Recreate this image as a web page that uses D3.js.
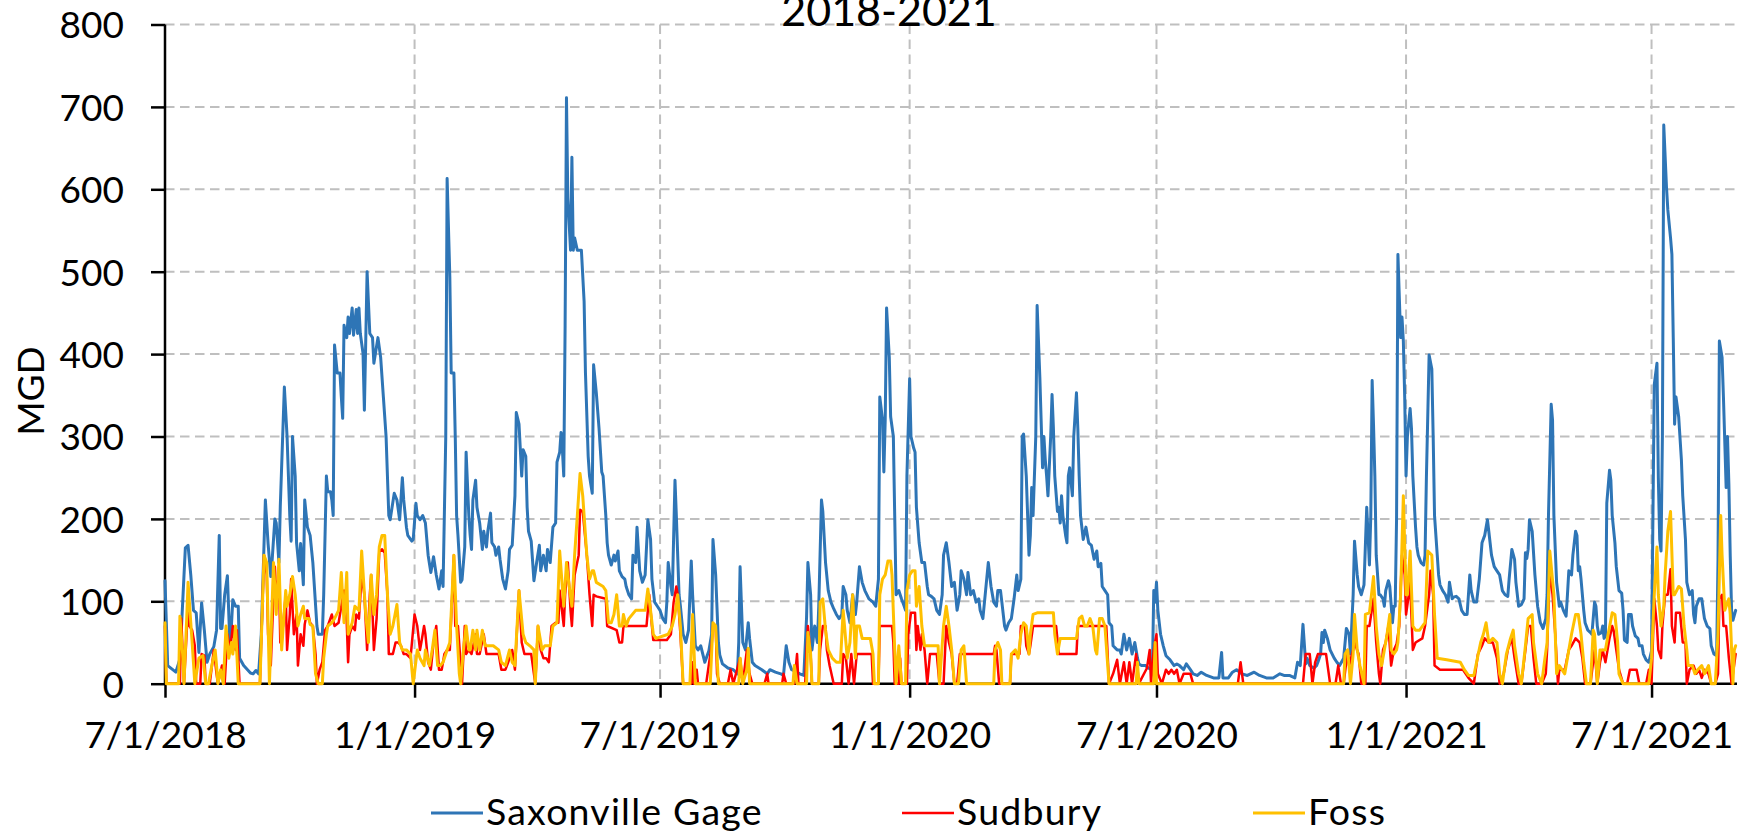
<!DOCTYPE html>
<html><head><meta charset="utf-8">
<script src="https://cdn.jsdelivr.net/npm/d3@7"></script>
<style>
html,body{margin:0;padding:0;background:#fff;}
svg{display:block;font-family:Lato,"Open Sans",sans-serif;}
</style>
</head><body>
<svg id="chart" width="1746" height="835"></svg>
<script>
// ---------- data ----------
const titleText = "2018-2021";
const yAxisTitle = "MGD";
const seriesNames = ["Saxonville Gage", "Sudbury", "Foss"];
const startDay = "2018-07-01";   // day 0 of the series below
const endDay = "2021-09-02";
const yTicks = [0, 100, 200, 300, 400, 500, 600, 700, 800];
const xTickDates = ["2018-07-01", "2019-01-01", "2019-07-01", "2020-01-01", "2020-07-01", "2021-01-01", "2021-07-01"];
const xTickLabels = ["7/1/2018", "1/1/2019", "7/1/2019", "1/1/2020", "7/1/2020", "1/1/2021", "7/1/2021"];

// [days since 7/1/2018, MGD]
const saxonville = [[0,125],[2,22],[5,18],[8,14],[11,30],[15,165],[17,168],[19,132],[21,89],[23,86],[25,38],[27,98],[29,65],[31,26],[33,36],[36,45],[38,65],[40,180],[41,67],[42,67],[44,108],[46,131],[48,41],[50,102],[52,94],[54,94],[55,31],[58,22],[63,13],[65,12],[67,16],[69,12],[71,60],[74,223],[76,170],[78,130],[79,150],[81,200],[82,195],[84,147],[85,215],[88,360],[90,300],[92,204],[93,173],[94,300],[96,252],[97,171],[99,137],[100,170],[102,120],[103,223],[105,190],[107,180],[109,147],[112,70],[113,60],[116,60],[117,108],[119,252],[120,233],[122,233],[123,223],[124,204],[125,411],[127,377],[129,377],[130,348],[131,322],[132,435],[134,420],[135,445],[136,425],[138,456],[139,423],[141,454],[142,425],[143,456],[144,425],[146,401],[147,332],[149,500],[151,425],[153,420],[154,389],[157,420],[159,396],[161,348],[163,300],[165,204],[166,199],[169,231],[171,223],[173,199],[175,250],[176,223],[178,190],[179,180],[182,173],[183,175],[185,219],[186,204],[188,199],[190,204],[192,195],[194,156],[196,135],[198,154],[200,132],[202,115],[204,137],[205,118],[207,300],[208,613],[210,493],[211,377],[213,377],[214,300],[215,204],[216,180],[218,123],[219,126],[221,166],[222,281],[224,204],[225,180],[226,163],[227,223],[229,247],[230,214],[232,195],[234,163],[235,185],[237,166],[238,185],[240,207],[241,171],[243,166],[244,156],[246,166],[247,151],[249,127],[251,115],[253,137],[254,163],[256,168],[258,228],[259,329],[261,315],[263,252],[264,284],[266,276],[267,214],[268,185],[270,173],[272,125],[274,147],[276,168],[277,137],[279,156],[281,137],[282,163],[284,147],[286,190],[288,195],[289,269],[291,281],[292,305],[293,284],[294,252],[295,435],[296,711],[297,589],[299,526],[300,639],[301,526],[302,541],[304,526],[307,526],[309,464],[310,377],[312,276],[313,252],[315,231],[316,387],[318,353],[320,310],[322,257],[323,252],[325,204],[326,171],[327,156],[329,144],[331,156],[332,149],[334,161],[335,137],[337,130],[339,127],[340,118],[342,108],[344,103],[345,156],[347,147],[348,190],[350,137],[352,123],[354,132],[356,199],[358,175],[359,127],[361,99],[363,94],[365,89],[367,79],[369,74],[370,99],[371,147],[373,118],[374,108],[376,247],[377,204],[379,108],[380,94],[382,60],[384,50],[386,65],[388,149],[389,108],[391,46],[393,41],[395,46],[398,26],[401,40],[403,60],[404,175],[406,132],[408,50],[409,35],[411,24],[415,19],[419,17],[422,12],[423,50],[424,142],[426,50],[428,41],[430,74],[431,55],[433,26],[435,22],[440,17],[444,12],[446,17],[450,14],[454,12],[456,10],[458,46],[460,26],[462,17],[466,14],[468,12],[471,10],[473,80],[474,147],[476,108],[477,41],[479,70],[481,50],[482,94],[484,223],[485,209],[487,147],[489,113],[491,99],[493,91],[495,84],[497,79],[499,84],[500,118],[502,108],[503,89],[505,74],[507,108],[509,84],[510,99],[512,142],[514,123],[516,113],[519,103],[522,99],[524,94],[526,127],[527,348],[529,320],[530,257],[531,320],[532,456],[534,396],[535,324],[537,300],[538,204],[539,108],[541,113],[543,103],[545,94],[546,89],[547,252],[549,370],[550,300],[552,286],[553,281],[554,214],[556,171],[558,147],[560,147],[562,118],[563,108],[565,106],[567,103],[569,89],[571,84],[573,108],[574,156],[576,171],[578,147],[580,118],[582,123],[584,89],[586,108],[587,137],[589,127],[591,108],[592,135],[594,108],[596,113],[598,99],[600,103],[601,89],[603,79],[605,113],[607,147],[609,118],[611,99],[613,94],[614,113],[616,113],[617,99],[619,70],[620,65],[622,74],[624,79],[626,103],[628,132],[629,113],[631,127],[632,300],[633,303],[635,252],[637,156],[638,180],[639,238],[640,204],[642,300],[643,459],[645,372],[647,262],[648,300],[649,272],[650,252],[651,228],[653,300],[654,351],[655,310],[656,252],[658,209],[659,214],[660,195],[661,228],[662,204],[664,180],[665,171],[666,252],[667,262],[669,228],[670,300],[672,353],[673,310],[674,252],[675,204],[677,175],[679,190],[681,171],[683,168],[685,151],[687,161],[688,142],[690,146],[691,118],[693,113],[695,108],[696,74],[698,70],[699,46],[702,41],[704,41],[705,36],[707,60],[709,41],[711,55],[713,36],[715,50],[717,31],[718,24],[720,22],[723,22],[725,19],[728,17],[729,113],[730,99],[731,123],[732,89],[734,60],[736,46],[738,34],[741,29],[744,22],[746,24],[748,22],[751,17],[753,24],[756,17],[758,12],[761,10],[764,14],[768,10],[773,7],[777,7],[779,38],[780,7],[784,7],[787,14],[790,17],[794,12],[798,10],[803,14],[807,10],[812,7],[817,7],[822,12],[825,10],[829,10],[833,7],[835,26],[837,22],[839,72],[841,24],[842,31],[844,22],[847,19],[849,22],[850,26],[852,36],[853,62],[854,50],[855,65],[857,55],[859,41],[862,31],[864,26],[866,22],[869,31],[871,67],[873,60],[874,36],[876,108],[877,173],[879,132],[880,118],[882,108],[884,120],[886,214],[887,180],[888,144],[889,204],[890,368],[891,315],[892,252],[893,156],[895,108],[896,108],[898,103],[899,94],[900,113],[902,125],[903,118],[905,74],[906,94],[907,94],[908,200],[909,521],[911,420],[912,445],[913,416],[914,348],[915,252],[916,300],[918,334],[919,310],[920,252],[922,190],[923,166],[924,156],[926,147],[928,144],[929,156],[930,250],[932,399],[934,382],[935,300],[936,204],[938,156],[939,132],[940,120],[942,113],[944,108],[946,99],[947,123],[949,103],[950,105],[952,106],[954,103],[956,89],[958,84],[960,84],[962,132],[963,113],[965,99],[967,99],[969,127],[971,171],[973,180],[975,199],[976,185],[978,156],[980,142],[982,137],[984,132],[986,113],[988,108],[990,106],[991,127],[993,163],[995,151],[996,123],[998,94],[1000,96],[1002,103],[1003,159],[1004,152],[1005,163],[1006,199],[1008,185],[1010,132],[1012,94],[1014,74],[1016,67],[1018,79],[1019,108],[1020,204],[1022,339],[1023,320],[1024,204],[1026,123],[1028,94],[1029,99],[1031,89],[1033,82],[1034,108],[1035,137],[1037,132],[1038,156],[1040,185],[1041,180],[1042,137],[1043,142],[1044,127],[1046,89],[1047,74],[1049,65],[1051,62],[1052,60],[1054,99],[1055,94],[1056,70],[1057,60],[1059,62],[1060,70],[1061,55],[1062,58],[1063,219],[1065,259],[1066,247],[1067,204],[1069,171],[1070,142],[1072,113],[1074,110],[1075,89],[1076,53],[1078,50],[1079,84],[1081,84],[1082,70],[1084,58],[1086,55],[1087,46],[1089,46],[1090,36],[1092,29],[1094,26],[1096,40],[1097,200],[1098,363],[1100,389],[1101,250],[1102,175],[1103,161],[1104,300],[1105,678],[1107,603],[1108,575],[1110,541],[1111,521],[1112,420],[1113,315],[1114,348],[1116,324],[1118,272],[1119,228],[1121,175],[1122,123],[1124,108],[1126,113],[1127,84],[1128,74],[1129,94],[1131,103],[1133,103],[1135,79],[1137,70],[1139,67],[1140,46],[1142,36],[1144,34],[1145,150],[1146,416],[1148,396],[1149,348],[1151,238],[1152,300],[1153,243],[1154,156],[1155,89],[1156,77],[1158,89]];

const sudbury = [[0,70],[1,0],[11,0],[12,79],[14,0],[17,94],[18,70],[20,65],[22,46],[23,0],[26,0],[27,36],[29,34],[30,0],[33,0],[36,41],[38,12],[39,0],[42,22],[44,0],[46,60],[48,41],[50,70],[52,41],[53,65],[55,0],[70,0],[73,156],[75,132],[76,60],[78,22],[80,108],[81,142],[82,108],[84,132],[85,50],[87,70],[89,108],[90,41],[92,84],[93,127],[95,60],[97,84],[98,22],[100,60],[102,46],[103,72],[105,89],[107,74],[109,70],[111,36],[112,0],[114,17],[116,26],[118,65],[120,70],[123,84],[125,70],[128,74],[130,94],[132,113],[134,74],[135,26],[136,60],[138,70],[140,65],[141,84],[143,79],[145,132],[147,108],[149,41],[151,108],[152,132],[154,41],[156,79],[158,161],[160,163],[162,159],[164,108],[165,36],[168,36],[170,50],[172,50],[174,46],[176,36],[178,36],[181,31],[184,84],[186,70],[188,41],[189,50],[191,70],[192,60],[194,26],[196,17],[198,50],[200,70],[202,17],[204,17],[206,36],[208,41],[210,41],[213,156],[214,70],[216,70],[219,0],[221,70],[222,36],[224,41],[226,36],[229,60],[230,36],[232,36],[235,60],[237,36],[246,36],[248,17],[251,17],[253,26],[256,41],[258,17],[261,113],[263,50],[265,36],[270,36],[273,0],[275,70],[277,41],[279,31],[281,31],[283,26],[285,70],[288,74],[290,74],[291,113],[294,70],[295,108],[297,147],[299,89],[300,70],[302,132],[305,156],[306,211],[308,209],[311,156],[313,108],[315,70],[316,108],[318,106],[325,103],[326,70],[333,65],[335,50],[337,50],[338,70],[355,70],[357,108],[359,70],[360,53],[370,53],[373,60],[375,99],[377,118],[378,108],[380,60],[382,0],[388,0],[389,26],[390,0],[392,17],[393,0],[399,0],[400,12],[403,46],[404,70],[406,70],[407,12],[409,0],[415,0],[417,17],[419,0],[424,31],[426,0],[429,41],[431,12],[433,0],[442,0],[444,12],[445,0],[455,0],[456,12],[458,0],[464,0],[466,36],[467,0],[472,0],[473,41],[474,70],[476,36],[477,0],[482,0],[483,41],[485,70],[487,70],[488,41],[490,22],[493,0],[499,0],[500,36],[502,31],[504,0],[506,36],[508,0],[510,36],[521,36],[522,0],[526,0],[527,70],[536,70],[537,50],[538,0],[541,0],[542,31],[543,0],[547,0],[548,60],[550,86],[553,86],[554,41],[555,70],[557,41],[558,60],[560,41],[562,0],[564,36],[569,36],[571,0],[574,0],[576,70],[578,50],[580,36],[582,0],[584,0],[586,36],[611,36],[612,46],[613,41],[615,0],[623,0],[624,36],[630,36],[631,70],[634,70],[635,46],[637,36],[638,46],[640,70],[657,70],[659,36],[672,36],[673,70],[694,70],[696,0],[699,12],[702,29],[704,0],[707,26],[709,0],[711,26],[713,0],[716,36],[718,0],[724,19],[726,41],[727,0],[729,41],[731,60],[732,12],[735,0],[738,17],[740,12],[742,17],[744,12],[746,17],[748,0],[751,12],[756,12],[758,0],[791,0],[793,26],[795,0],[839,0],[841,36],[844,36],[846,0],[848,26],[850,36],[856,36],[859,0],[863,0],[865,22],[867,0],[869,0],[872,41],[873,22],[876,41],[877,50],[880,36],[882,0],[885,0],[886,70],[888,70],[891,103],[893,50],[895,12],[896,0],[898,41],[900,50],[902,70],[904,22],[906,41],[908,48],[910,70],[912,156],[914,132],[915,84],[917,108],[918,123],[920,41],[922,50],[927,55],[929,70],[932,108],[933,137],[935,108],[936,22],[940,17],[957,17],[961,7],[965,0],[968,36],[971,46],[973,55],[976,50],[979,50],[982,31],[984,0],[987,12],[990,41],[993,55],[995,31],[998,0],[1000,0],[1003,41],[1005,70],[1007,70],[1009,31],[1011,0],[1015,0],[1018,12],[1019,41],[1021,140],[1023,108],[1025,60],[1027,0],[1028,17],[1032,17],[1035,41],[1037,46],[1040,55],[1043,50],[1045,31],[1047,0],[1051,0],[1054,41],[1056,0],[1058,26],[1060,41],[1062,26],[1065,55],[1067,70],[1068,65],[1070,41],[1072,17],[1075,0],[1078,0],[1080,17],[1085,17],[1087,0],[1092,0],[1094,17],[1096,0],[1098,103],[1100,70],[1101,41],[1103,31],[1104,70],[1106,108],[1108,108],[1110,139],[1111,70],[1113,50],[1114,86],[1117,86],[1119,50],[1121,50],[1122,0],[1124,17],[1127,22],[1129,12],[1131,17],[1133,7],[1135,17],[1138,12],[1140,0],[1143,0],[1145,12],[1146,103],[1148,108],[1149,70],[1151,70],[1153,31],[1155,0],[1158,36]];

const foss = [[0,74],[1,0],[10,0],[11,82],[13,36],[14,0],[16,79],[17,123],[19,74],[20,50],[22,0],[25,31],[28,34],[30,0],[32,0],[35,26],[37,41],[38,22],[39,0],[41,17],[43,0],[45,70],[47,31],[49,50],[50,36],[52,70],[54,0],[70,0],[73,156],[75,147],[77,0],[80,147],[82,84],[84,151],[86,41],[89,113],[90,94],[92,108],[94,130],[96,108],[98,70],[100,84],[102,94],[103,79],[106,79],[107,72],[109,70],[111,12],[113,0],[116,0],[117,31],[119,60],[120,70],[123,74],[125,79],[128,89],[130,135],[132,74],[134,135],[135,60],[138,74],[140,94],[143,89],[145,161],[148,84],[150,50],[152,132],[154,84],[156,108],[158,166],[160,180],[162,180],[164,108],[166,60],[168,70],[171,96],[173,50],[175,41],[178,41],[181,36],[183,0],[186,41],[188,31],[191,22],[192,41],[195,22],[197,41],[199,65],[201,22],[203,22],[205,26],[208,41],[210,50],[213,156],[215,70],[217,12],[218,0],[220,41],[222,70],[224,41],[225,41],[227,65],[229,41],[230,65],[232,41],[234,65],[236,46],[242,46],[246,41],[248,26],[251,22],[254,41],[256,26],[258,22],[261,113],[264,60],[266,50],[269,46],[272,41],[273,0],[275,70],[278,41],[280,46],[284,46],[286,70],[289,74],[291,161],[294,94],[296,147],[298,118],[300,94],[302,156],[304,204],[306,255],[308,228],[311,156],[313,127],[315,137],[316,137],[318,123],[323,118],[325,113],[327,74],[329,74],[331,84],[333,108],[335,70],[337,70],[338,84],[340,70],[342,79],[347,89],[354,89],[356,115],[358,89],[360,60],[362,55],[371,60],[374,70],[376,84],[378,108],[380,70],[382,0],[387,0],[389,84],[391,0],[402,0],[404,74],[406,70],[408,0],[423,0],[424,31],[426,0],[429,17],[430,43],[431,0],[463,0],[464,22],[466,0],[473,0],[474,62],[476,36],[477,0],[482,0],[483,99],[485,103],[487,65],[489,41],[492,31],[495,26],[498,26],[500,89],[501,70],[503,31],[505,50],[507,108],[509,31],[510,70],[512,70],[514,55],[520,55],[522,36],[523,0],[526,0],[527,108],[529,127],[531,132],[533,149],[535,149],[536,132],[538,41],[539,0],[541,46],[543,0],[546,0],[547,113],[549,132],[551,137],[553,137],[554,94],[556,118],[558,70],[560,46],[570,46],[571,0],[574,70],[576,94],[578,70],[580,41],[582,0],[585,0],[587,41],[589,46],[591,0],[611,0],[612,41],[614,50],[616,41],[617,0],[623,0],[624,36],[627,41],[629,31],[631,60],[633,74],[635,70],[637,36],[638,60],[640,84],[643,86],[655,86],[656,60],[658,36],[660,55],[672,55],[674,79],[676,82],[678,70],[680,70],[682,79],[684,70],[686,41],[687,36],[689,79],[691,79],[693,70],[696,0],[716,0],[717,26],[718,0],[729,0],[730,50],[731,0],[869,0],[870,36],[872,41],[874,0],[876,36],[877,84],[879,41],[881,22],[884,0],[885,84],[888,86],[891,130],[893,70],[895,36],[897,22],[899,41],[901,60],[903,84],[904,41],[906,36],[908,41],[909,50],[911,108],[913,228],[915,108],[916,108],[918,161],[920,70],[922,65],[925,65],[929,74],[931,161],[934,156],[936,84],[938,31],[945,29],[955,26],[958,17],[961,10],[965,10],[967,26],[970,50],[972,60],[974,74],[976,50],[979,55],[982,50],[984,12],[986,0],[989,36],[992,55],[994,65],[995,46],[998,12],[1000,0],[1003,46],[1005,79],[1008,84],[1009,50],[1012,12],[1015,0],[1017,26],[1019,50],[1021,161],[1024,108],[1026,12],[1028,22],[1032,12],[1035,41],[1037,60],[1040,84],[1042,84],[1044,60],[1046,26],[1048,0],[1051,0],[1053,65],[1054,60],[1056,0],[1058,41],[1062,41],[1064,60],[1067,86],[1069,84],[1071,50],[1072,12],[1075,0],[1094,0],[1096,31],[1098,108],[1100,166],[1101,108],[1103,70],[1105,94],[1106,132],[1108,185],[1110,209],[1112,108],[1113,108],[1116,118],[1118,115],[1120,70],[1122,41],[1123,22],[1126,22],[1128,12],[1130,17],[1133,22],[1135,12],[1138,22],[1140,0],[1143,0],[1145,60],[1147,204],[1148,156],[1150,89],[1153,103],[1154,84],[1156,0],[1157,41],[1158,46]];

// ---------- drawing ----------
const colors = ["#2E75B6", "#FF0000", "#FFC000"];
const widths = [3, 2.5, 3];
const parse = d3.utcParse("%Y-%m-%d");
const t0 = parse(startDay);
const toDate = d => d3.utcDay.offset(t0, d);

const plot = {left: 165, right: 1737, top: 24.5, bottom: 683.7};
const svg = d3.select("#chart");
svg.append("rect").attr("width", 1746).attr("height", 835).attr("fill", "#fff");

const x = d3.scaleUtc().domain([t0, parse(endDay)]).range([plot.left, plot.right]);
const y = d3.scaleLinear().domain([0, 800]).range([plot.bottom, plot.top]);

const grid = svg.append("g").attr("stroke", "#BFBFBF").attr("stroke-width", 2).attr("stroke-dasharray", "9.5,5.5");
grid.selectAll("line.h").data(yTicks.filter(v => v > 0)).join("line")
  .attr("x1", plot.left).attr("x2", plot.right)
  .attr("y1", d => y(d)).attr("y2", d => y(d));
grid.selectAll("line.v").data(xTickDates.slice(1)).join("line")
  .attr("x1", d => x(parse(d))).attr("x2", d => x(parse(d)))
  .attr("y1", plot.top).attr("y2", plot.bottom);

// y axis
const yAxis = svg.append("g").attr("transform", `translate(${plot.left},0)`)
  .call(d3.axisLeft(y).tickValues(yTicks).tickSize(14).tickPadding(27).tickFormat(d3.format("d")));
yAxis.select(".domain").attr("stroke", "#000").attr("stroke-width", 2.5).attr("d", `M0,${plot.top}V${plot.bottom}`);
yAxis.selectAll(".tick line").attr("stroke", "#000").attr("stroke-width", 2.5);
yAxis.selectAll(".tick text").attr("font-size", 37).attr("fill", "#000")
  .attr("font-family", "Lato, sans-serif").attr("dy", "0.36em");

// x axis
const xAxis = svg.append("g").attr("transform", `translate(0,${plot.bottom})`)
  .call(d3.axisBottom(x).tickValues(xTickDates.map(parse)).tickSize(14).tickPadding(24)
    .tickFormat((d, i) => xTickLabels[i]));
xAxis.select(".domain").attr("stroke", "#000").attr("stroke-width", 2.5).attr("d", `M${plot.left},0H${plot.right}`);
xAxis.selectAll(".tick line").attr("stroke", "#000").attr("stroke-width", 2.5);
xAxis.selectAll(".tick text").attr("font-size", 37).attr("fill", "#000")
  .attr("font-family", "Lato, sans-serif").attr("dy", "0.71em");

// series
const line = d3.line().x(d => x(toDate(d[0]))).y(d => y(d[1]));
[saxonville, sudbury, foss].forEach((s, i) => {
  svg.append("path").datum(s).attr("d", line).attr("fill", "none")
    .attr("stroke", colors[i]).attr("stroke-width", widths[i])
    .attr("stroke-linejoin", "round").attr("stroke-linecap", "round");
});

// title (partially clipped at top, as in the original)
svg.append("text").attr("x", 889).attr("y", 26).attr("text-anchor", "middle")
  .attr("font-size", 43).attr("fill", "#000").text(titleText);

// y axis title
svg.append("text").attr("transform", "translate(44,391) rotate(-90)")
  .attr("text-anchor", "middle").attr("font-size", 37).attr("fill", "#000").text(yAxisTitle);

// legend
const legendX = [431, 902, 1253];
const lg = svg.append("g");
seriesNames.forEach((name, i) => {
  lg.append("line").attr("x1", legendX[i]).attr("x2", legendX[i] + 52)
    .attr("y1", 813).attr("y2", 813).attr("stroke", colors[i]).attr("stroke-width", widths[i]);
  lg.append("text").attr("x", legendX[i] + 55).attr("y", 825)
    .attr("font-size", 37.5).attr("letter-spacing", 1.2).attr("fill", "#000").text(name);
});
</script>
</body></html>
